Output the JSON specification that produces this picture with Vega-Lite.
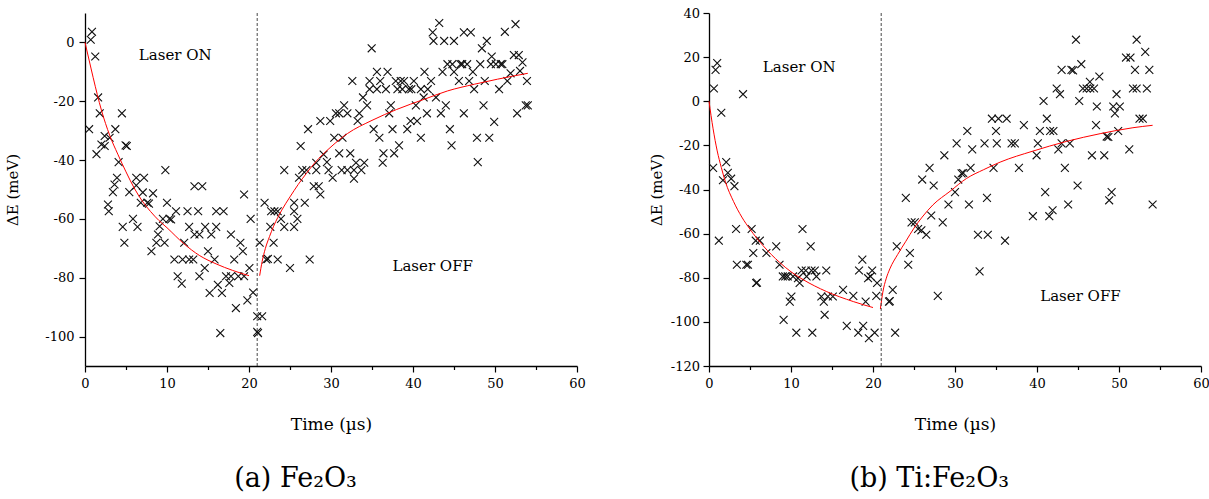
{
  "$schema": "https://vega.github.io/schema/vega-lite/v6.json",
  "padding": {"left": 5, "top": 7, "right": 0, "bottom": 0},
  "spacing": 63,
  "config": {
    "view": {"stroke": null},
    "font": "DejaVu Serif",
    "axis": {"domainColor": "#000", "domainWidth": 1.3, "tickColor": "#000", "tickWidth": 1.2, "labelFont": "DejaVu Serif", "labelFontSize": 13, "labelColor": "#000", "titleFont": "DejaVu Serif", "titleFontWeight": "normal", "titleColor": "#000", "grid": false, "labelPadding": 5, "labelOverlap": false, "labelFlush": false},
    "axisY": {"titleFontSize": 15},
    "axisX": {"titleFontSize": 17},
    "title": {"font": "DejaVu Serif", "fontSize": 27, "fontWeight": "normal", "color": "#000", "orient": "bottom", "anchor": "middle", "frame": "bounds", "offset": 33}
  },
  "datasets": {
    "ptsA": [
      {"t":0.85,"e":3.6},{"t":0.7,"e":0.9},{"t":1.25,"e":-4.8},{"t":1.6,"e":-18.7},{"t":1.8,"e":-24.1},{"t":0.5,"e":-29.5},{"t":4.5,"e":-24.1},{"t":3.7,"e":-29.5},{"t":2.4,"e":-31.8},{"t":3.0,"e":-32.4},{"t":2.0,"e":-34.7},{"t":2.4,"e":-35.2},{"t":4.95,"e":-35},{"t":5.1,"e":-35.2},{"t":1.4,"e":-38},{"t":4.1,"e":-40.7},{"t":3.9,"e":-46},{"t":3.6,"e":-48.3},{"t":3.4,"e":-50.9},{"t":5.4,"e":-50.9},{"t":6.25,"e":-46},{"t":7.2,"e":-46},{"t":6.25,"e":-48.6},{"t":7.05,"e":-51},{"t":8.3,"e":-51.3},{"t":9.8,"e":-43.4},{"t":13.35,"e":-48.9},{"t":14.3,"e":-48.9},{"t":19.4,"e":-51.7},
      {"t":2.8,"e":-55.1},{"t":2.9,"e":-57.4},{"t":4.6,"e":-62.7},{"t":4.8,"e":-68.1},{"t":5.85,"e":-60},{"t":6.4,"e":-62.7},{"t":6.8,"e":-54.5},{"t":7.6,"e":-54.5},{"t":7.8,"e":-54.8},{"t":8.1,"e":-71},{"t":8.7,"e":-68.1},{"t":8.9,"e":-65.3},{"t":9.1,"e":-62.5},{"t":9.5,"e":-60},{"t":10.3,"e":-60},{"t":10.5,"e":-60.2},{"t":9.7,"e":-68.1},{"t":10.0,"e":-54.5},{"t":11.1,"e":-57.4},{"t":10.9,"e":-73.8},{"t":11.9,"e":-73.8},{"t":12.7,"e":-73.8},{"t":13.2,"e":-73.8},{"t":12.1,"e":-68.1},{"t":11.3,"e":-79.5},{"t":11.8,"e":-82},{"t":12.5,"e":-57.4},{"t":13.8,"e":-57.4},{"t":12.7,"e":-62.7},{"t":13.35,"e":-65.3},{"t":13.95,"e":-65.3},{"t":14.65,"e":-62.7},{"t":15.4,"e":-65.3},{"t":16.0,"e":-62.7},{"t":15.0,"e":-71},{"t":15.8,"e":-73.8},{"t":16.0,"e":-57.4},{"t":16.9,"e":-57.4},{"t":14.6,"e":-76.7},{"t":13.95,"e":-79.5},{"t":15.2,"e":-85.2},{"t":16.2,"e":-82.4},{"t":16.7,"e":-85.2},{"t":16.5,"e":-98.8},{"t":17.2,"e":-79.5},{"t":17.8,"e":-79.5},{"t":17.6,"e":-81.8},{"t":17.8,"e":-65.3},{"t":18.2,"e":-73.8},{"t":18.95,"e":-68.1},{"t":19.25,"e":-71},{"t":18.7,"e":-79.5},{"t":19.4,"e":-79.5},{"t":20.05,"e":-76.7},{"t":20.2,"e":-60},{"t":18.4,"e":-90.3},{"t":19.8,"e":-87.7},{"t":20.5,"e":-85},{"t":21.0,"e":-93.1},{"t":21.6,"e":-93.1},{"t":21.0,"e":-98.4},{"t":21.1,"e":-98.8},
      {"t":21.3,"e":-68.1},{"t":21.9,"e":-54.5},{"t":22.1,"e":-73.8},{"t":22.3,"e":-73.6},{"t":23.5,"e":-73.8},{"t":22.6,"e":-62.7},{"t":23.0,"e":-68.1},{"t":22.7,"e":-57.4},{"t":23.1,"e":-57.4},{"t":23.5,"e":-57.4},{"t":23.9,"e":-60},{"t":24.3,"e":-62.7},{"t":25.0,"e":-76.7},{"t":25.5,"e":-54.5},{"t":25.5,"e":-57.4},{"t":25.5,"e":-62.7},{"t":25.9,"e":-60},{"t":26.8,"e":-54.5},{"t":27.4,"e":-73.8},{"t":27.9,"e":-48.9},{"t":28.5,"e":-48.9},{"t":28.7,"e":-51.7},
      {"t":24.3,"e":-43.4},{"t":26.3,"e":-35.2},{"t":27.2,"e":-29.5},{"t":26.1,"e":-46},{"t":26.5,"e":-43.4},{"t":27.0,"e":-43.4},{"t":28.2,"e":-43.4},{"t":28.2,"e":-40.9},{"t":28.7,"e":-26.7},
      {"t":29.1,"e":-38.1},{"t":29.5,"e":-40.7},{"t":29.7,"e":-43.4},{"t":30.2,"e":-46},{"t":29.9,"e":-26.7},{"t":30.4,"e":-32.4},{"t":31.4,"e":-32.4},{"t":30.6,"e":-24.1},{"t":31.0,"e":-24.1},{"t":32.0,"e":-24.1},{"t":31.6,"e":-21.4},{"t":31.0,"e":-37.7},{"t":32.35,"e":-37.7},{"t":31.3,"e":-43.4},{"t":32.0,"e":-43.4},{"t":32.8,"e":-43.4},{"t":33.7,"e":-43.4},{"t":32.8,"e":-46.3},{"t":33.05,"e":-40.9},{"t":34.05,"e":-40.9},{"t":33.25,"e":-26.7},{"t":33.45,"e":-24.1},{"t":32.6,"e":-13.1},{"t":33.9,"e":-18.7},{"t":34.4,"e":-21.4},{"t":34.7,"e":-13.1},{"t":34.7,"e":-15.9},{"t":34.96,"e":-2.0},{"t":35.2,"e":-29.5},{"t":35.6,"e":-10},{"t":35.9,"e":-32.4},{"t":36.0,"e":-13.1},{"t":35.6,"e":-15.9},{"t":36.7,"e":-15.9},{"t":36.9,"e":-10},{"t":36.4,"e":-37.7},{"t":37.7,"e":-37.7},{"t":36.3,"e":-40.9},{"t":37.5,"e":-29.5},{"t":37.3,"e":-21.4},{"t":37.1,"e":-24.1},{"t":37.9,"e":-13.1},{"t":38.5,"e":-13.1},{"t":38.9,"e":-13.1},{"t":40.1,"e":-13.1},{"t":38.1,"e":-15.9},{"t":38.7,"e":-15.9},{"t":39.5,"e":-15.9},{"t":39.8,"e":-15.9},{"t":38.3,"e":-35},{"t":39.3,"e":-29.5},{"t":39.7,"e":-26.7},{"t":40.5,"e":-26.7},{"t":40.35,"e":-21.4},{"t":40.96,"e":-32.4},{"t":40.96,"e":-15.9},{"t":41.8,"e":-15.9},{"t":41.3,"e":-18.7},{"t":41.4,"e":-10},{"t":41.7,"e":-24.1},{"t":42.2,"e":-13.1},{"t":42.4,"e":3.4},{"t":42.5,"e":0.5},{"t":43.2,"e":6.6},{"t":43.8,"e":0.5},{"t":42.8,"e":-18.7},{"t":43.4,"e":-24.1},{"t":43.6,"e":-10},{"t":44.0,"e":-21.4},{"t":44.5,"e":-29.5},{"t":44.7,"e":-35},{"t":44.2,"e":-7.4},{"t":44.8,"e":-7.4},{"t":45.0,"e":0.5},{"t":45.0,"e":-10},{"t":45.6,"e":-13.1},{"t":45.8,"e":-7.4},{"t":46.0,"e":-7.4},{"t":46.6,"e":-7.4},{"t":46.2,"e":3.4},{"t":47.05,"e":3.4},{"t":46.2,"e":-24.1},{"t":46.85,"e":-13.1},{"t":47.3,"e":-10},{"t":47.45,"e":-15.9},{"t":47.8,"e":-32.4},{"t":47.9,"e":-40.7},{"t":48.2,"e":-7.4},{"t":48.4,"e":-2.0},{"t":48.6,"e":-21.4},{"t":49.0,"e":0.5},{"t":48.75,"e":-13.1},{"t":49.3,"e":-32.4},{"t":49.6,"e":-4.8},{"t":49.5,"e":-7.4},{"t":50.1,"e":-7.4},{"t":50.7,"e":-7.4},{"t":50.9,"e":-7.4},{"t":49.9,"e":-27},{"t":50.5,"e":-15.9},{"t":51.2,"e":3.6},{"t":51.5,"e":-13.1},{"t":51.9,"e":-10.5},{"t":52.3,"e":-4.3},{"t":52.9,"e":-4.3},{"t":52.5,"e":6.2},{"t":52.7,"e":-24.1},{"t":53.05,"e":-9.7},{"t":53.35,"e":-6.8},{"t":53.75,"e":-21.4},{"t":54.0,"e":-21.4},{"t":53.9,"e":-13.1}
    ],
    "fitA": [
      {"s":1,"t":0,"e":0},{"s":1,"t":0.5,"e":-6},{"s":1,"t":1,"e":-12},{"s":1,"t":2,"e":-23},{"s":1,"t":3,"e":-31.5},{"s":1,"t":4,"e":-38},{"s":1,"t":5,"e":-44},{"s":1,"t":6,"e":-49.5},{"s":1,"t":7,"e":-54},{"s":1,"t":8,"e":-57.5},{"s":1,"t":9,"e":-60.5},{"s":1,"t":10,"e":-63},{"s":1,"t":12,"e":-68.3},{"s":1,"t":14,"e":-72.5},{"s":1,"t":16,"e":-75.3},{"s":1,"t":18,"e":-77.5},{"s":1,"t":20,"e":-79.3},
      {"s":2,"t":21.3,"e":-79.3},{"s":2,"t":21.6,"e":-74.5},{"s":2,"t":22,"e":-70},{"s":2,"t":22.5,"e":-66},{"s":2,"t":23,"e":-62.5},{"s":2,"t":24,"e":-57},{"s":2,"t":25,"e":-52.5},{"s":2,"t":26,"e":-48.3},{"s":2,"t":27,"e":-44.5},{"s":2,"t":28,"e":-41},{"s":2,"t":30,"e":-35.5},{"s":2,"t":32,"e":-31},{"s":2,"t":35,"e":-26.5},{"s":2,"t":38,"e":-22.8},{"s":2,"t":41.4,"e":-19.3},{"s":2,"t":44.2,"e":-16.5},{"s":2,"t":47.5,"e":-14.2},{"s":2,"t":50.3,"e":-12.5},{"s":2,"t":54,"e":-10.5}
    ],
    "txtA": [{"t":11.0,"e":-4.3,"label":"Laser ON"},{"t":42.4,"e":-75.9,"label":"Laser OFF"}],
    "cut": [{"t":21}],
    "ptsB": [
      {"t":0.6,"e":5.8},{"t":1.0,"e":17.3},{"t":0.8,"e":14.2},{"t":1.5,"e":-5.2},{"t":4.15,"e":3.2},{"t":0.5,"e":-30.2},{"t":2.1,"e":-27.6},{"t":2.3,"e":-32.4},{"t":1.7,"e":-35.8},{"t":2.7,"e":-35.1},{"t":3.1,"e":-38.5},{"t":1.2,"e":-63.2},{"t":3.3,"e":-57.9},{"t":3.4,"e":-74.1},{"t":4.55,"e":-74.1},{"t":4.75,"e":-74.1},{"t":5.2,"e":-57.9},{"t":5.4,"e":-68.8},{"t":5.7,"e":-63.2},{"t":6.2,"e":-63.2},{"t":5.75,"e":-82.4},{"t":5.85,"e":-82.2},{"t":7.0,"e":-68.8},{"t":8.2,"e":-65.8},{"t":8.6,"e":-74.1},{"t":9.0,"e":-79.4},{"t":9.3,"e":-79.4},{"t":9.6,"e":-79.4},{"t":10.25,"e":-79.4},{"t":10.05,"e":-88.5},{"t":9.85,"e":-90.8},{"t":9.1,"e":-99.1},{"t":10.65,"e":-104.9},{"t":10.85,"e":-80.2},{"t":11.05,"e":-82.4},{"t":11.4,"e":-57.9},{"t":11.3,"e":-76.7},{"t":11.8,"e":-76.7},{"t":12.5,"e":-76.7},{"t":12.9,"e":-76.7},{"t":12.4,"e":-65.8},{"t":11.9,"e":-79.4},{"t":13.1,"e":-79.4},{"t":12.6,"e":-104.9},{"t":13.7,"e":-88.5},{"t":14.0,"e":-90.8},{"t":14.3,"e":-76.7},{"t":14.1,"e":-96.8},{"t":14.5,"e":-88.5},{"t":15.1,"e":-88.5},{"t":16.35,"e":-85.5},{"t":16.8,"e":-101.8},{"t":17.6,"e":-88.2},{"t":18.3,"e":-76.7},{"t":18.7,"e":-71.8},{"t":18.2,"e":-104.9},{"t":18.8,"e":-101.8},{"t":19.1,"e":-90.8},{"t":19.5,"e":-107.4},{"t":19.4,"e":-80.2},{"t":19.7,"e":-79.4},{"t":19.9,"e":-76.7},{"t":20.2,"e":-104.9},{"t":20.4,"e":-88.2},{"t":20.5,"e":-82.4},
      {"t":21.95,"e":-90.8},{"t":22.05,"e":-90.6},{"t":22.4,"e":-85.5},{"t":22.7,"e":-104.9},{"t":22.9,"e":-65.8},{"t":24.0,"e":-43.8},{"t":24.3,"e":-74.1},{"t":24.5,"e":-68.8},{"t":24.7,"e":-54.9},{"t":25.1,"e":-54.9},{"t":25.5,"e":-57.9},{"t":25.9,"e":-58.5},{"t":26.5,"e":-60.5},{"t":27.1,"e":-51.8},{"t":26.0,"e":-35.5},{"t":26.9,"e":-30.2},{"t":27.4,"e":-38.2},{"t":27.9,"e":-88.2},{"t":28.5,"e":-54.9},{"t":29.2,"e":-46.8},{"t":30.0,"e":-41.2},{"t":30.4,"e":-35.5},{"t":31.7,"e":-46.8},{"t":32.8,"e":-60.5},{"t":34.0,"e":-60.5},{"t":33.0,"e":-77.1},{"t":33.9,"e":-43.8},{"t":36.1,"e":-63.2},{"t":39.5,"e":-52.1},{"t":41.0,"e":-41.2},{"t":41.5,"e":-52.1},{"t":41.9,"e":-49.4},{"t":43.8,"e":-46.8},{"t":44.95,"e":-38.2},{"t":48.8,"e":-44.9},{"t":49.1,"e":-41.2},{"t":54.1,"e":-46.8},
      {"t":28.7,"e":-24.5},{"t":30.2,"e":-19.1},{"t":30.8,"e":-32.7},{"t":31.0,"e":-32.5},{"t":31.9,"e":-30.2},{"t":31.5,"e":-13.5},{"t":32.1,"e":-21.8},{"t":33.6,"e":-19.1},{"t":34.7,"e":-30.2},{"t":34.5,"e":-7.9},{"t":35.3,"e":-7.9},{"t":36.3,"e":-7.9},{"t":35.0,"e":-13.5},{"t":35.1,"e":-19.1},{"t":36.9,"e":-19.1},{"t":37.3,"e":-19.1},{"t":37.8,"e":-30.2},{"t":38.4,"e":-10.8},{"t":39.95,"e":-24.5},{"t":40.1,"e":-19.1},{"t":40.35,"e":-13.5},{"t":41.6,"e":-13.5},{"t":42.0,"e":-13.5},{"t":40.8,"e":0.1},{"t":41.2,"e":-7.9},{"t":42.4,"e":5.8},{"t":42.8,"e":3.2},{"t":42.6,"e":-21.8},{"t":43.0,"e":-19.1},{"t":44.0,"e":-19.1},{"t":43.4,"e":-30.2},{"t":43.0,"e":14.2},{"t":44.2,"e":14.2},{"t":44.4,"e":14.0},{"t":44.75,"e":27.9},{"t":45.4,"e":16.8},{"t":45.15,"e":0.1},{"t":45.6,"e":5.8},{"t":46.05,"e":5.8},{"t":46.5,"e":5.8},{"t":46.95,"e":5.8},{"t":46.45,"e":8.8},{"t":47.6,"e":11.2},{"t":47.3,"e":-2.4},{"t":47.2,"e":-10.8},{"t":46.7,"e":-24.5},{"t":48.2,"e":-24.5},{"t":48.5,"e":-16},{"t":48.7,"e":-16.2},{"t":49.3,"e":-2.4},{"t":50.1,"e":-2.4},{"t":49.5,"e":-5.5},{"t":49.7,"e":3.2},{"t":49.9,"e":-13.5},{"t":51.25,"e":-21.8},{"t":50.85,"e":19.8},{"t":51.4,"e":19.8},{"t":52.15,"e":27.9},{"t":53.2,"e":22.4},{"t":51.95,"e":14.2},{"t":53.7,"e":14.2},{"t":51.7,"e":5.8},{"t":52.15,"e":5.8},{"t":53.4,"e":5.8},{"t":52.5,"e":-7.9},{"t":52.9,"e":-7.9}
    ],
    "fitB": [
      {"s":1,"t":0,"e":0},{"s":1,"t":0.5,"e":-12.5},{"s":1,"t":1,"e":-22.5},{"s":1,"t":1.5,"e":-30},{"s":1,"t":2,"e":-36.5},{"s":1,"t":3,"e":-45.5},{"s":1,"t":4,"e":-52.5},{"s":1,"t":5,"e":-58},{"s":1,"t":6.6,"e":-65.5},{"s":1,"t":8.6,"e":-73},{"s":1,"t":10,"e":-77.3},{"s":1,"t":11.5,"e":-80.9},{"s":1,"t":14.3,"e":-86.2},{"s":1,"t":17.6,"e":-90.8},{"s":1,"t":20,"e":-93.5},
      {"s":2,"t":20.9,"e":-94.2},{"s":2,"t":21.2,"e":-86.5},{"s":2,"t":21.6,"e":-80.5},{"s":2,"t":22.05,"e":-76},{"s":2,"t":23,"e":-69.5},{"s":2,"t":24,"e":-63.5},{"s":2,"t":25,"e":-57.5},{"s":2,"t":26,"e":-52.5},{"s":2,"t":27.3,"e":-47},{"s":2,"t":29.4,"e":-40.8},{"s":2,"t":31.4,"e":-35},{"s":2,"t":33.5,"e":-31},{"s":2,"t":35.5,"e":-27.6},{"s":2,"t":39.5,"e":-22.6},{"s":2,"t":43.6,"e":-18.2},{"s":2,"t":47.7,"e":-14.7},{"s":2,"t":51.7,"e":-12},{"s":2,"t":54.1,"e":-10.9}
    ],
    "txtB": [{"t":11.0,"e":15.3,"label":"Laser ON"},{"t":45.3,"e":-88.2,"label":"Laser OFF"}]
  },
  "hconcat": [
    {
      "title": "(a) Fe₂O₃",
      "width": 492,
      "height": 353,
      "layer": [
        {
          "data": {"name": "ptsA"},
          "mark": {"type": "point", "shape": "M-1,-1L1,1M-1,1L1,-1", "filled": false, "stroke": "#111", "strokeWidth": 1.1, "size": 62, "opacity": 1},
          "encoding": {
            "x": {"field": "t", "type": "quantitative", "title": "Time (µs)", "scale": {"domain": [0, 60], "nice": false, "zero": false},
              "axis": {"values": [0,5,10,15,20,25,30,35,40,45,50,55,60], "labelExpr": "datum.value % 10 === 0 ? toString(datum.value) : ''", "tickSize": {"condition": {"test": "datum.value % 10 === 0", "value": 6}, "value": 3.5}, "titlePadding": 26.5}},
            "y": {"field": "e", "type": "quantitative", "title": "ΔE (meV)", "scale": {"domain": [-110, 10], "nice": false, "zero": false},
              "axis": {"values": [-100,-90,-80,-70,-60,-50,-40,-30,-20,-10,0], "labelExpr": "datum.value % 20 === 0 ? toString(datum.value) : ''", "tickSize": {"condition": {"test": "datum.value % 20 === 0", "value": 6}, "value": 3.5}, "titlePadding": 24, "labelPadding": 5}}
          }
        },
        {
          "data": {"name": "fitA"},
          "mark": {"type": "line", "color": "#ff0000", "strokeWidth": 1, "interpolate": "monotone"},
          "encoding": {
            "x": {"field": "t", "type": "quantitative", "title": "Time (µs)"},
            "y": {"field": "e", "type": "quantitative", "title": "ΔE (meV)"},
            "detail": {"field": "s", "type": "nominal"}
          }
        },
        {
          "data": {"name": "cut"},
          "mark": {"type": "rule", "strokeDash": [3, 2], "color": "#333", "strokeWidth": 0.9},
          "encoding": {"x": {"field": "t", "type": "quantitative", "title": "Time (µs)"}}
        },
        {
          "data": {"name": "txtA"},
          "mark": {"type": "text", "font": "DejaVu Serif", "fontSize": 15, "color": "#000", "align": "center", "baseline": "middle"},
          "encoding": {
            "x": {"field": "t", "type": "quantitative", "title": "Time (µs)"},
            "y": {"field": "e", "type": "quantitative", "title": "ΔE (meV)"},
            "text": {"field": "label", "type": "nominal"}
          }
        }
      ]
    },
    {
      "title": "(b) Ti:Fe₂O₃",
      "width": 492,
      "height": 353,
      "layer": [
        {
          "data": {"name": "ptsB"},
          "mark": {"type": "point", "shape": "M-1,-1L1,1M-1,1L1,-1", "filled": false, "stroke": "#111", "strokeWidth": 1.1, "size": 62, "opacity": 1},
          "encoding": {
            "x": {"field": "t", "type": "quantitative", "title": "Time (µs)", "scale": {"domain": [0, 60], "nice": false, "zero": false},
              "axis": {"values": [0,5,10,15,20,25,30,35,40,45,50,55,60], "labelExpr": "datum.value % 10 === 0 ? toString(datum.value) : ''", "tickSize": {"condition": {"test": "datum.value % 10 === 0", "value": 6}, "value": 3.5}, "titlePadding": 26.5}},
            "y": {"field": "e", "type": "quantitative", "title": "ΔE (meV)", "scale": {"domain": [-120, 40], "nice": false, "zero": false},
              "axis": {"values": [-120,-110,-100,-90,-80,-70,-60,-50,-40,-30,-20,-10,0,10,20,30,40], "labelExpr": "datum.value % 20 === 0 ? toString(datum.value) : ''", "tickSize": {"condition": {"test": "datum.value % 20 === 0", "value": 6}, "value": 3.5}, "titlePadding": 6, "labelPadding": 3.5}}
          }
        },
        {
          "data": {"name": "fitB"},
          "mark": {"type": "line", "color": "#ff0000", "strokeWidth": 1, "interpolate": "monotone"},
          "encoding": {
            "x": {"field": "t", "type": "quantitative", "title": "Time (µs)"},
            "y": {"field": "e", "type": "quantitative", "title": "ΔE (meV)"},
            "detail": {"field": "s", "type": "nominal"}
          }
        },
        {
          "data": {"name": "cut"},
          "mark": {"type": "rule", "strokeDash": [3, 2], "color": "#333", "strokeWidth": 0.9},
          "encoding": {"x": {"field": "t", "type": "quantitative", "title": "Time (µs)"}}
        },
        {
          "data": {"name": "txtB"},
          "mark": {"type": "text", "font": "DejaVu Serif", "fontSize": 15, "color": "#000", "align": "center", "baseline": "middle"},
          "encoding": {
            "x": {"field": "t", "type": "quantitative", "title": "Time (µs)"},
            "y": {"field": "e", "type": "quantitative", "title": "ΔE (meV)"},
            "text": {"field": "label", "type": "nominal"}
          }
        }
      ]
    }
  ]
}
